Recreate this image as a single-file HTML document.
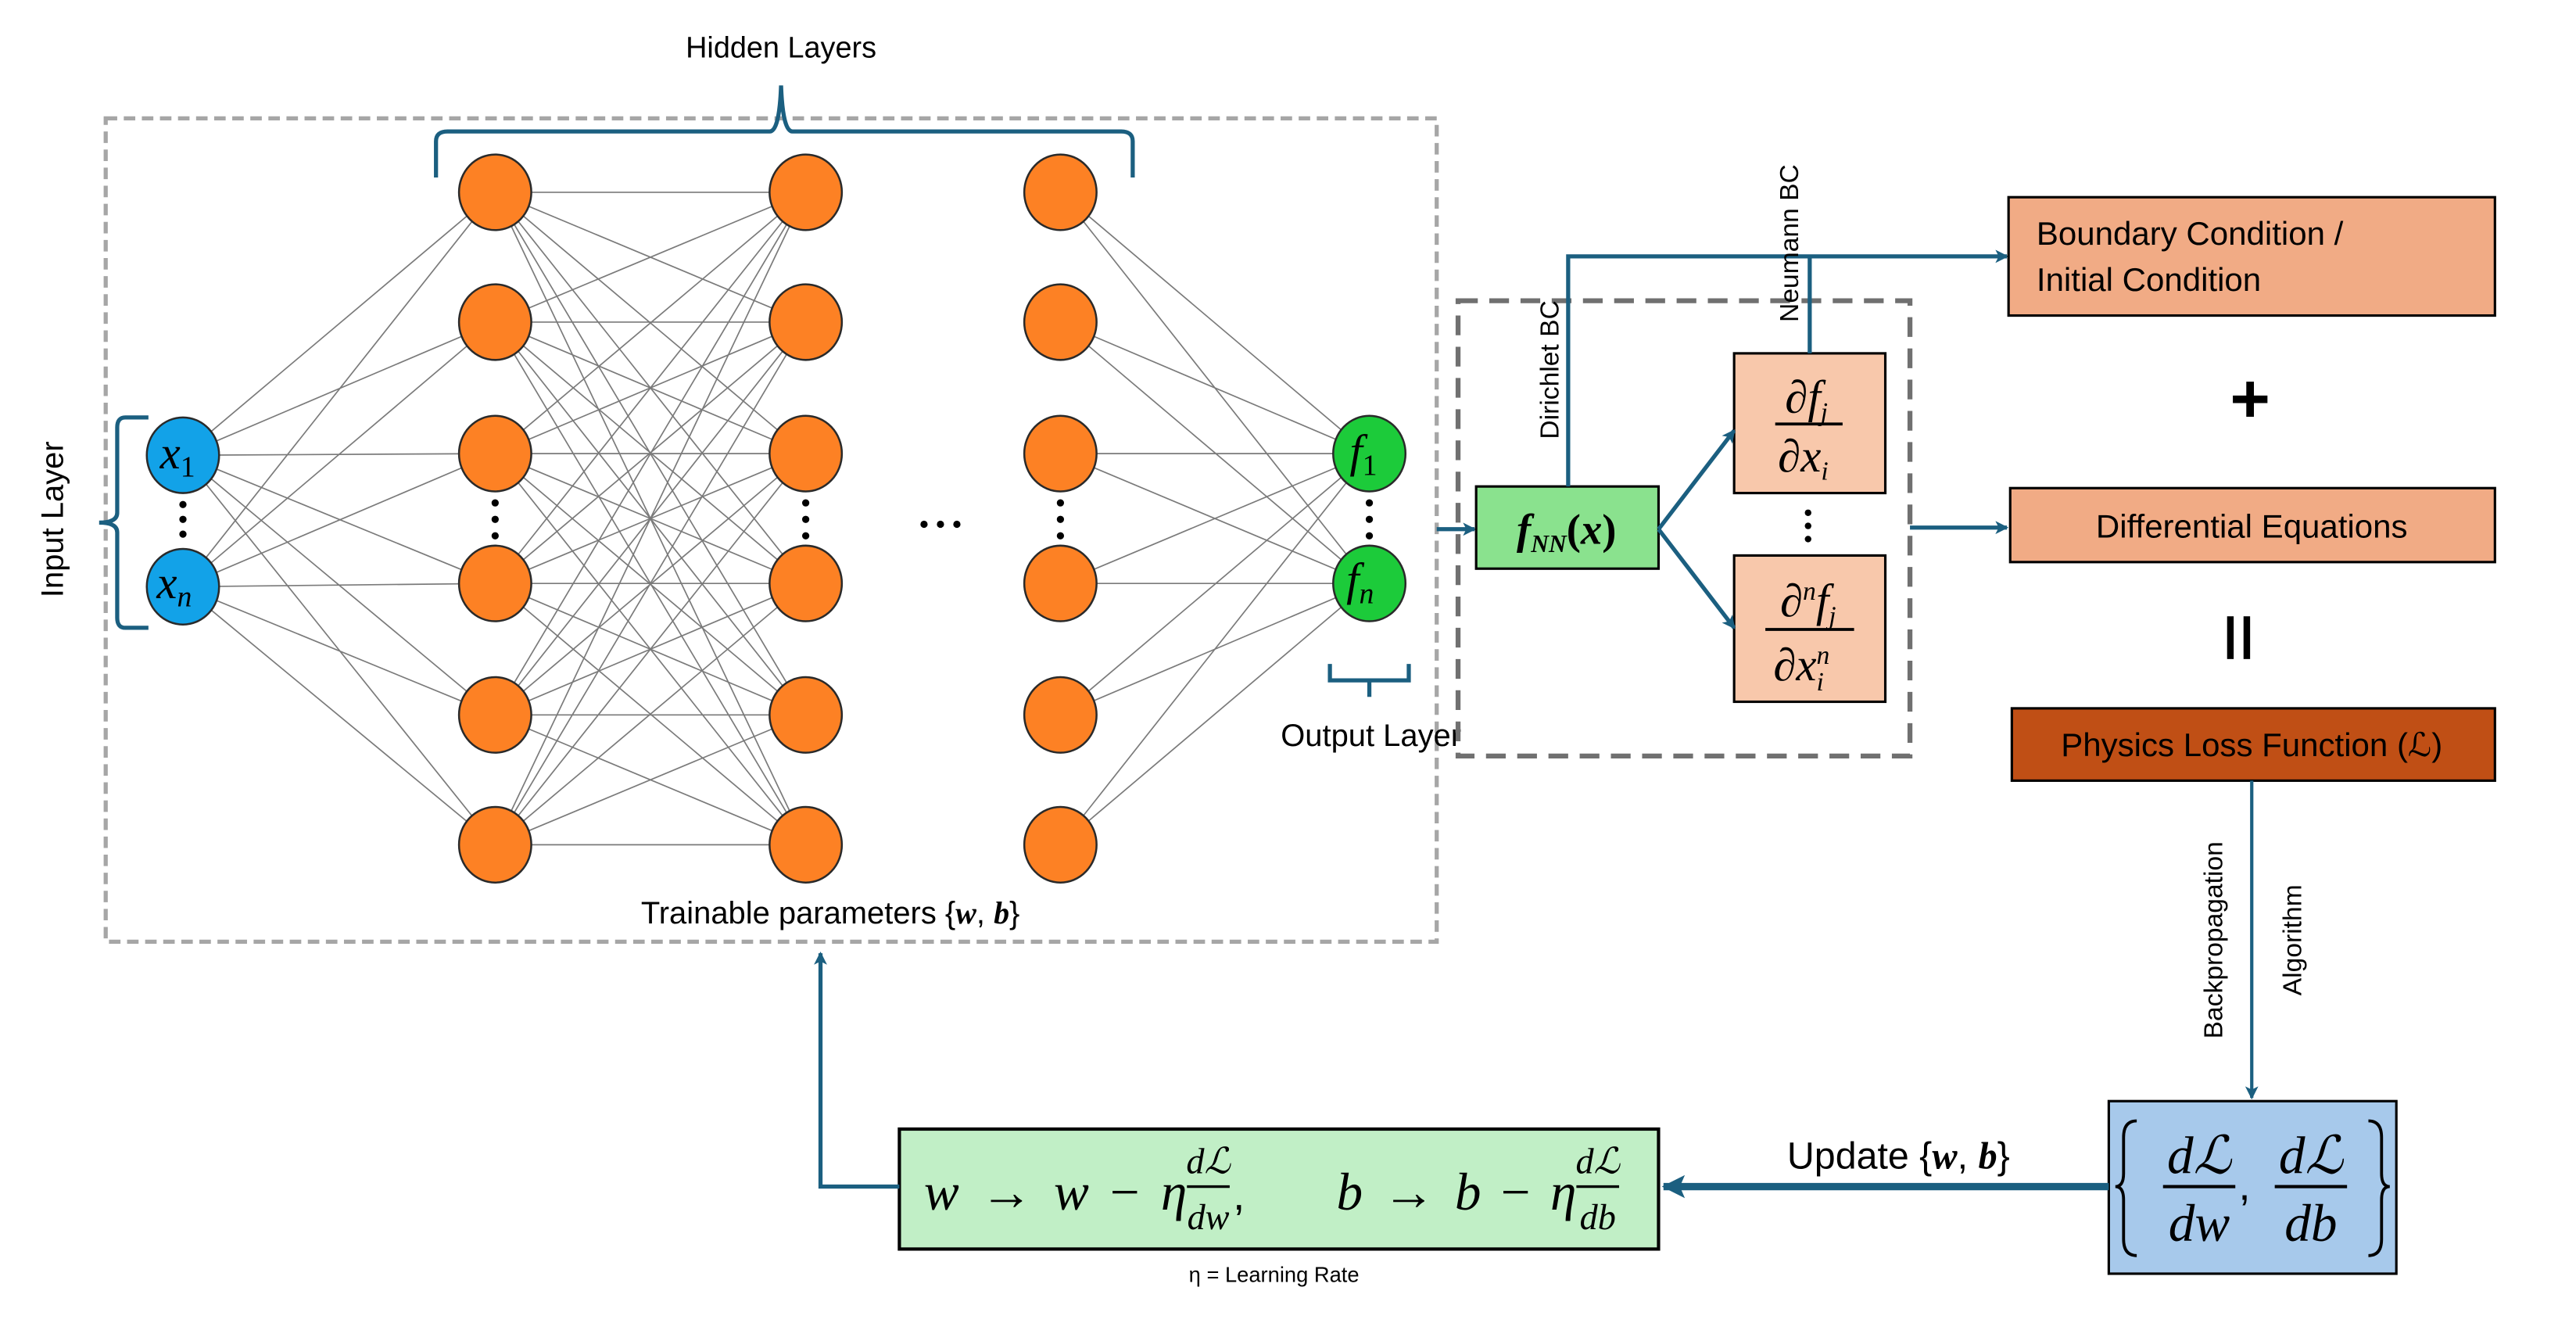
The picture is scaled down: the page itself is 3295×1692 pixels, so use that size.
<!DOCTYPE html>
<html><head><meta charset="utf-8"><style>
html,body{margin:0;padding:0;background:#fff;}
svg{display:block;}
text{font-family:"Liberation Sans",sans-serif;fill:#000;}
.m{font-family:"Liberation Serif",serif;font-style:italic;}
.e line{stroke:#7a7a7a;stroke-width:0.8;}
.n{stroke:#2a2a2a;stroke-width:1.2;}
</style></head><body>
<svg width="3295" height="1692" viewBox="0 0 1567 805" xmlns="http://www.w3.org/2000/svg">
<defs>
<marker id="a" markerWidth="8" markerHeight="8" refX="7" refY="4" orient="auto" markerUnits="userSpaceOnUse"><path d="M0,0 L8,4 L0,8 L2,4z" fill="#1b5f80"/></marker>
<marker id="b" markerWidth="14" markerHeight="14" refX="13" refY="7" orient="auto" markerUnits="userSpaceOnUse"><path d="M0,0 L14,7 L0,14 L3,7z" fill="#1b5f80"/></marker>
</defs>
<rect x="64" y="72" width="810" height="501" fill="none" stroke="#a6a6a6" stroke-width="2.5" stroke-dasharray="7,4"/>
<text x="475" y="35" font-size="18" text-anchor="middle">Hidden Layers</text>
<path d="M265,108 L265,86 Q265,80 272,80 L468,80 Q474,80 475,52 Q476,80 482,80 L682,80 Q689,80 689,86 L689,108" fill="none" stroke="#1b5f80" stroke-width="2.5"/>
<path d="M90,254 L76,254 Q71,254 71,260 L71,312 Q71,318 60,318 Q71,318 71,324 L71,376 Q71,382 76,382 L90,382" fill="none" stroke="#1b5f80" stroke-width="2.5"/>
<text transform="translate(38,316) rotate(-90)" font-size="19" text-anchor="middle">Input Layer</text>
<g class="e">
<line x1="111" y1="277" x2="301" y2="117"/><line x1="111" y1="277" x2="301" y2="196"/><line x1="111" y1="277" x2="301" y2="276"/><line x1="111" y1="277" x2="301" y2="355"/><line x1="111" y1="277" x2="301" y2="435"/><line x1="111" y1="277" x2="301" y2="514"/>
<line x1="111" y1="357" x2="301" y2="117"/><line x1="111" y1="357" x2="301" y2="196"/><line x1="111" y1="357" x2="301" y2="276"/><line x1="111" y1="357" x2="301" y2="355"/><line x1="111" y1="357" x2="301" y2="435"/><line x1="111" y1="357" x2="301" y2="514"/>
<line x1="301" y1="117" x2="490" y2="117"/><line x1="301" y1="117" x2="490" y2="196"/><line x1="301" y1="117" x2="490" y2="276"/><line x1="301" y1="117" x2="490" y2="355"/><line x1="301" y1="117" x2="490" y2="435"/><line x1="301" y1="117" x2="490" y2="514"/>
<line x1="301" y1="196" x2="490" y2="117"/><line x1="301" y1="196" x2="490" y2="196"/><line x1="301" y1="196" x2="490" y2="276"/><line x1="301" y1="196" x2="490" y2="355"/><line x1="301" y1="196" x2="490" y2="435"/><line x1="301" y1="196" x2="490" y2="514"/>
<line x1="301" y1="276" x2="490" y2="117"/><line x1="301" y1="276" x2="490" y2="196"/><line x1="301" y1="276" x2="490" y2="276"/><line x1="301" y1="276" x2="490" y2="355"/><line x1="301" y1="276" x2="490" y2="435"/><line x1="301" y1="276" x2="490" y2="514"/>
<line x1="301" y1="355" x2="490" y2="117"/><line x1="301" y1="355" x2="490" y2="196"/><line x1="301" y1="355" x2="490" y2="276"/><line x1="301" y1="355" x2="490" y2="355"/><line x1="301" y1="355" x2="490" y2="435"/><line x1="301" y1="355" x2="490" y2="514"/>
<line x1="301" y1="435" x2="490" y2="117"/><line x1="301" y1="435" x2="490" y2="196"/><line x1="301" y1="435" x2="490" y2="276"/><line x1="301" y1="435" x2="490" y2="355"/><line x1="301" y1="435" x2="490" y2="435"/><line x1="301" y1="435" x2="490" y2="514"/>
<line x1="301" y1="514" x2="490" y2="117"/><line x1="301" y1="514" x2="490" y2="196"/><line x1="301" y1="514" x2="490" y2="276"/><line x1="301" y1="514" x2="490" y2="355"/><line x1="301" y1="514" x2="490" y2="435"/><line x1="301" y1="514" x2="490" y2="514"/>
<line x1="645" y1="117" x2="833" y2="276"/><line x1="645" y1="117" x2="833" y2="355"/><line x1="645" y1="196" x2="833" y2="276"/><line x1="645" y1="196" x2="833" y2="355"/><line x1="645" y1="276" x2="833" y2="276"/><line x1="645" y1="276" x2="833" y2="355"/>
<line x1="645" y1="355" x2="833" y2="276"/><line x1="645" y1="355" x2="833" y2="355"/><line x1="645" y1="435" x2="833" y2="276"/><line x1="645" y1="435" x2="833" y2="355"/><line x1="645" y1="514" x2="833" y2="276"/><line x1="645" y1="514" x2="833" y2="355"/>
</g>
<g class="n" fill="#fd8124">
<ellipse cx="301" cy="117" rx="22" ry="23"/><ellipse cx="301" cy="196" rx="22" ry="23"/><ellipse cx="301" cy="276" rx="22" ry="23"/><ellipse cx="301" cy="355" rx="22" ry="23"/><ellipse cx="301" cy="435" rx="22" ry="23"/><ellipse cx="301" cy="514" rx="22" ry="23"/>
<ellipse cx="490" cy="117" rx="22" ry="23"/><ellipse cx="490" cy="196" rx="22" ry="23"/><ellipse cx="490" cy="276" rx="22" ry="23"/><ellipse cx="490" cy="355" rx="22" ry="23"/><ellipse cx="490" cy="435" rx="22" ry="23"/><ellipse cx="490" cy="514" rx="22" ry="23"/>
<ellipse cx="645" cy="117" rx="22" ry="23"/><ellipse cx="645" cy="196" rx="22" ry="23"/><ellipse cx="645" cy="276" rx="22" ry="23"/><ellipse cx="645" cy="355" rx="22" ry="23"/><ellipse cx="645" cy="435" rx="22" ry="23"/><ellipse cx="645" cy="514" rx="22" ry="23"/>
</g>
<g class="n" fill="#12a2e8"><ellipse cx="111" cy="277" rx="22" ry="23"/><ellipse cx="111" cy="357" rx="22" ry="23"/></g>
<g class="n" fill="#1ccb3a"><ellipse cx="833" cy="276" rx="22" ry="23"/><ellipse cx="833" cy="355" rx="22" ry="23"/></g>
<text class="m" x="97" y="285" font-size="28">x<tspan font-size="18" font-style="normal" dy="5">1</tspan></text>
<text class="m" x="95" y="364" font-size="28">x<tspan font-size="18" dy="5">n</tspan></text>
<text class="m" x="821" y="284" font-size="28">f<tspan font-size="18" font-style="normal" dy="5">1</tspan></text>
<text class="m" x="819" y="362" font-size="28">f<tspan font-size="18" dy="5">n</tspan></text>
<g fill="#000">
<circle cx="111" cy="307" r="2.2"/><circle cx="111" cy="316" r="2.2"/><circle cx="111" cy="325" r="2.2"/>
<circle cx="301" cy="306" r="2.2"/><circle cx="301" cy="316" r="2.2"/><circle cx="301" cy="326" r="2.2"/>
<circle cx="490" cy="306" r="2.2"/><circle cx="490" cy="316" r="2.2"/><circle cx="490" cy="326" r="2.2"/>
<circle cx="645" cy="306" r="2.2"/><circle cx="645" cy="316" r="2.2"/><circle cx="645" cy="326" r="2.2"/>
<circle cx="833" cy="306" r="2.2"/><circle cx="833" cy="316" r="2.2"/><circle cx="833" cy="326" r="2.2"/>
<circle cx="562" cy="319" r="2.2"/><circle cx="572" cy="319" r="2.2"/><circle cx="582" cy="319" r="2.2"/>
<circle cx="1100" cy="312" r="2"/><circle cx="1100" cy="320" r="2"/><circle cx="1100" cy="328" r="2"/>
</g>
<path d="M809,404 L809,414 L833,414 L833,424 M833,414 L857,414 L857,404" fill="none" stroke="#1b5f80" stroke-width="2.5"/>
<text x="834" y="454" font-size="19" text-anchor="middle">Output Layer</text>
<text x="505" y="562" font-size="19" text-anchor="middle">Trainable parameters {<tspan class="m" font-weight="bold">w</tspan>, <tspan class="m" font-weight="bold">b</tspan>}</text>

<rect x="887" y="183" width="275" height="277" fill="none" stroke="#707070" stroke-width="3" stroke-dasharray="12,7"/>
<line x1="874" y1="322" x2="897" y2="322" stroke="#1b5f80" stroke-width="2.5" marker-end="url(#a)"/>
<rect x="898" y="296" width="111" height="50" fill="#8ae28e" stroke="#000" stroke-width="1.5"/>
<text class="m" x="953" y="331" font-size="26" font-weight="bold" text-anchor="middle">f<tspan font-size="15" dy="5">NN</tspan><tspan dy="-5" font-style="normal">(</tspan>x<tspan font-style="normal">)</tspan></text>
<rect x="1055" y="215" width="92" height="85" fill="#f8c8ab" stroke="#000" stroke-width="1.5"/>
<rect x="1055" y="338" width="92" height="89" fill="#f8c8ab" stroke="#000" stroke-width="1.5"/>
<text class="m" x="1099" y="251" font-size="28" text-anchor="middle"><tspan font-style="normal">∂</tspan>f<tspan font-size="16" dy="5">j</tspan></text>
<line x1="1080" y1="258" x2="1121" y2="258" stroke="#000" stroke-width="1.8"/>
<text class="m" x="1097" y="287" font-size="28" text-anchor="middle"><tspan font-style="normal">∂</tspan>x<tspan font-size="16" dy="5">i</tspan></text>
<text class="m" x="1100" y="375" font-size="28" text-anchor="middle"><tspan font-style="normal">∂</tspan><tspan font-size="16" dy="-10">n</tspan><tspan dy="10">f</tspan><tspan font-size="16" dy="5">j</tspan></text>
<line x1="1074" y1="383" x2="1128" y2="383" stroke="#000" stroke-width="1.8"/>
<text class="m" x="1096" y="414" font-size="28" text-anchor="middle"><tspan font-style="normal">∂</tspan>x<tspan font-size="16" dy="-10">n</tspan><tspan font-size="16" dx="-8" dy="16">i</tspan></text>
<line x1="1009" y1="322" x2="1055" y2="262" stroke="#1b5f80" stroke-width="2.5" marker-end="url(#a)"/>
<line x1="1009" y1="322" x2="1055" y2="382" stroke="#1b5f80" stroke-width="2.5" marker-end="url(#a)"/>
<polyline points="954,296 954,156 1221,156" fill="none" stroke="#1b5f80" stroke-width="2.5" marker-end="url(#a)"/>
<line x1="1101" y1="215" x2="1101" y2="156" stroke="#1b5f80" stroke-width="2.5"/>
<text transform="translate(948,225) rotate(-90)" font-size="16" text-anchor="middle">Dirichlet BC</text>
<text transform="translate(1094,148) rotate(-90)" font-size="16" text-anchor="middle">Neumann BC</text>
<line x1="1162" y1="321" x2="1221" y2="321" stroke="#1b5f80" stroke-width="2.5" marker-end="url(#a)"/>
<rect x="1222" y="120" width="296" height="72" fill="#f1ab85" stroke="#000" stroke-width="1.5"/>
<text x="1239" y="149" font-size="20">Boundary Condition /</text>
<text x="1239" y="177" font-size="20">Initial Condition</text>
<text x="1369" y="257" font-size="42" font-weight="bold" text-anchor="middle">+</text>
<rect x="1223" y="297" width="295" height="45" fill="#f1ab85" stroke="#000" stroke-width="1.5"/>
<text x="1370" y="327" font-size="20" text-anchor="middle">Differential Equations</text>
<rect x="1355" y="375" width="4" height="26" fill="#000"/><rect x="1365" y="375" width="4" height="26" fill="#000"/>
<rect x="1224" y="431" width="294" height="44" fill="#c04f15" stroke="#000" stroke-width="1.5"/>
<text x="1370" y="460" font-size="20" text-anchor="middle">Physics Loss Function (ℒ)</text>
<line x1="1370" y1="475" x2="1370" y2="668" stroke="#1b5f80" stroke-width="2" marker-end="url(#a)"/>
<text transform="translate(1352,572) rotate(-90)" font-size="16" text-anchor="middle">Backpropagation</text>
<text transform="translate(1400,572) rotate(-90)" font-size="16" text-anchor="middle">Algorithm</text>
<rect x="1283" y="670" width="175" height="105" fill="#a7c9eb" stroke="#000" stroke-width="1.5"/>
<path d="M1300,682 Q1292,682 1292,692 L1292,714 Q1292,722 1287,722 Q1292,722 1292,730 L1292,754 Q1292,764 1300,764" fill="none" stroke="#000" stroke-width="1.8"/>
<path d="M1441,682 Q1449,682 1449,692 L1449,714 Q1449,722 1454,722 Q1449,722 1449,730 L1449,754 Q1449,764 1441,764" fill="none" stroke="#000" stroke-width="1.8"/>
<text class="m" x="1338" y="714" font-size="32" text-anchor="middle">dℒ</text>
<line x1="1316" y1="722" x2="1360" y2="722" stroke="#000" stroke-width="2"/>
<text class="m" x="1338" y="755" font-size="32" text-anchor="middle">dw</text>
<text x="1362" y="730" font-size="26" font-family="Liberation Serif">,</text>
<text class="m" x="1406" y="714" font-size="32" text-anchor="middle">dℒ</text>
<line x1="1384" y1="722" x2="1428" y2="722" stroke="#000" stroke-width="2"/>
<text class="m" x="1406" y="755" font-size="32" text-anchor="middle">db</text>
<line x1="1283" y1="722" x2="1012" y2="722" stroke="#1b5f80" stroke-width="4.5" marker-end="url(#b)"/>
<text x="1155" y="711" font-size="23" text-anchor="middle">Update {<tspan class="m" font-weight="bold">w</tspan>, <tspan class="m" font-weight="bold">b</tspan>}</text>
<rect x="547" y="687" width="462" height="73" fill="#c1efc6" stroke="#000" stroke-width="2"/>
<text class="m" x="562" y="736" font-size="32" textLength="160" lengthAdjust="spacing">w <tspan font-style="normal">→</tspan> w <tspan font-style="normal">−</tspan> η</text>
<text class="m" x="735" y="714" font-size="22" text-anchor="middle">dℒ</text>
<line x1="722" y1="722" x2="748" y2="722" stroke="#000" stroke-width="1.6"/>
<text class="m" x="735" y="748" font-size="22" text-anchor="middle">dw</text>
<text x="750" y="736" font-size="26" font-family="Liberation Serif">,</text>
<text class="m" x="813" y="736" font-size="32" textLength="146" lengthAdjust="spacing">b <tspan font-style="normal">→</tspan> b <tspan font-style="normal">−</tspan> η</text>
<text class="m" x="972" y="714" font-size="22" text-anchor="middle">dℒ</text>
<line x1="959" y1="722" x2="985" y2="722" stroke="#000" stroke-width="1.6"/>
<text class="m" x="972" y="748" font-size="22" text-anchor="middle">db</text>
<text x="775" y="780" font-size="13" text-anchor="middle">η = Learning Rate</text>
<polyline points="547,722 499,722 499,580" fill="none" stroke="#1b5f80" stroke-width="2.5" marker-end="url(#a)"/>
</svg>
</body></html>
